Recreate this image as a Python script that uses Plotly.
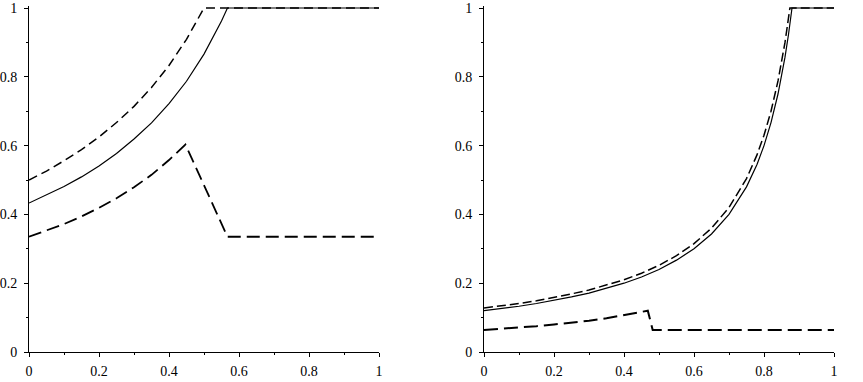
import plotly.graph_objects as go

# ---- Left panel data ----
L_solid_x = [0, 0.05, 0.1, 0.15, 0.2, 0.25, 0.3, 0.35, 0.4, 0.45, 0.5, 0.55, 0.567, 1.0]
L_solid_y = [0.433, 0.456, 0.481, 0.509, 0.541, 0.577, 0.619, 0.666, 0.722, 0.787, 0.866, 0.962, 1.0, 1.0]

L_upper_x = [0, 0.05, 0.1, 0.15, 0.2, 0.25, 0.3, 0.35, 0.4, 0.45, 0.5, 1.0]
L_upper_y = [0.5, 0.526, 0.556, 0.588, 0.625, 0.667, 0.714, 0.769, 0.833, 0.909, 1.0, 1.0]

L_lower_x = [0, 0.05, 0.1, 0.15, 0.2, 0.25, 0.3, 0.35, 0.4, 0.447, 0.567, 1.0]
L_lower_y = [0.335, 0.353, 0.372, 0.394, 0.419, 0.447, 0.479, 0.515, 0.558, 0.603, 0.335, 0.335]

# ---- Right panel data ----
R_solid_x = [0, 0.05, 0.1, 0.15, 0.2, 0.25, 0.3, 0.35, 0.4, 0.45, 0.5, 0.55, 0.6, 0.65,
             0.7, 0.75, 0.78, 0.8, 0.82, 0.84, 0.86, 0.87, 0.88, 1.0]
R_solid_y = [0.120, 0.126, 0.133, 0.141, 0.150, 0.160, 0.171, 0.185, 0.200, 0.218, 0.240, 0.267,
             0.300, 0.343, 0.400, 0.480, 0.545, 0.600, 0.667, 0.750, 0.857, 0.923, 1.0, 1.0]

R_upper_x = [0, 0.05, 0.1, 0.15, 0.2, 0.25, 0.3, 0.35, 0.4, 0.45, 0.5, 0.55, 0.6, 0.65,
             0.7, 0.75, 0.78, 0.8, 0.82, 0.84, 0.86, 0.874, 1.0]
R_upper_y = [0.128, 0.134, 0.141, 0.149, 0.158, 0.169, 0.180, 0.194, 0.210, 0.229, 0.252, 0.280,
             0.315, 0.360, 0.420, 0.504, 0.573, 0.630, 0.700, 0.788, 0.900, 1.0, 1.0]

R_lower_x = [0, 0.05, 0.1, 0.15, 0.2, 0.25, 0.3, 0.35, 0.4, 0.45, 0.468, 0.482, 1.0]
R_lower_y = [0.064, 0.067, 0.071, 0.075, 0.080, 0.085, 0.091, 0.098, 0.107, 0.116, 0.120, 0.064, 0.064]

tick_vals = [0, 0.2, 0.4, 0.6, 0.8, 1]
tick_text = ["0", "0.2", "0.4", "0.6", "0.8", "1"]

fig = go.Figure()

def add(x, y, dash, width, xa, ya):
    fig.add_trace(go.Scatter(x=x, y=y, mode="lines", xaxis=xa, yaxis=ya,
                             line=dict(color="black", width=width, dash=dash),
                             showlegend=False, hoverinfo="skip"))

add(L_upper_x, L_upper_y, "9px,5px", 1.5, "x", "y")
add(L_solid_x, L_solid_y, "solid", 1.2, "x", "y")
add(L_lower_x, L_lower_y, "13px,6px", 1.8, "x", "y")

add(R_upper_x, R_upper_y, "9px,4px", 1.5, "x2", "y2")
add(R_solid_x, R_solid_y, "solid", 1.2, "x2", "y2")
add(R_lower_x, R_lower_y, "14px,6px", 2.0, "x2", "y2")

W, H = 863, 382
PX = 344.0            # pixels per unit on the y axis
HEAD = 2.0            # headroom so lines at y=1 are not clipped
ydom = [1 - 352 / H, 1 - (8 - HEAD) / H]
yrange = [0, 1 + HEAD / PX]
font = dict(family="Liberation Serif, Times New Roman, serif", size=14, color="black")

def axis(domain, anchor, rng):
    return dict(domain=domain, anchor=anchor, range=rng, showgrid=False, zeroline=False,
                showline=True, linecolor="black", linewidth=1, ticks="outside", ticklen=4,
                tickcolor="black", tickwidth=1, tickvals=tick_vals, ticktext=tick_text,
                tickfont=font, fixedrange=True, automargin=False,
                minor=dict(tickvals=[0.1, 0.3, 0.5, 0.7, 0.9], ticks="outside", ticklen=2,
                           tickcolor="black", tickwidth=1, showgrid=False))

fig.update_layout(
    width=W, height=H,
    font=font,
    margin=dict(l=0, r=0, t=0, b=0, autoexpand=False),
    paper_bgcolor="white", plot_bgcolor="white",
    xaxis=axis([29 / W, 379 / W], "y", [0, 1]),
    yaxis=axis(ydom, "x", yrange),
    xaxis2=axis([484 / W, 834 / W], "y2", [0, 1]),
    yaxis2=axis(ydom, "x2", yrange),
)
fig.update_xaxes(ticklabelstandoff=2)
fig.update_yaxes(ticklabelstandoff=4)

fig.write_html("out.html", config={"displayModeBar": False},
               post_script="document.body.style.margin='0';document.body.style.overflow='hidden';")
